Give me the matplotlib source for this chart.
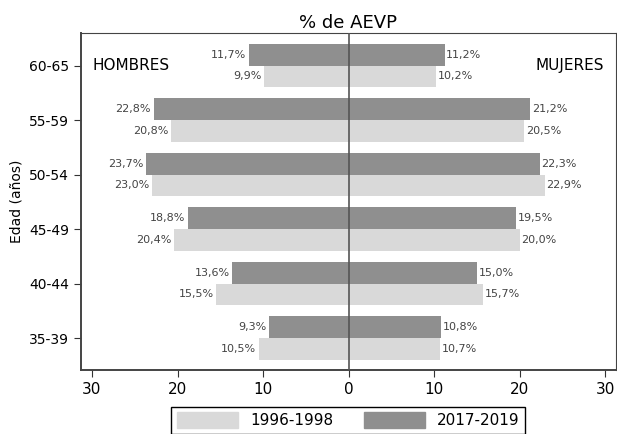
import matplotlib.pyplot as plt
import numpy as np
from matplotlib.patches import Patch

grupos = ['60-65', '55-59', '50-54', '45-49', '40-44', '35-39']
hombres_9698 = [9.9, 20.8, 23.0, 20.4, 15.5, 10.5]
hombres_1719 = [11.7, 22.8, 23.7, 18.8, 13.6, 9.3]
mujeres_9698 = [10.2, 20.5, 22.9, 20.0, 15.7, 10.7]
mujeres_1719 = [11.2, 21.2, 22.3, 19.5, 15.0, 10.8]

c_claro = '#d9d9d9'
c_oscuro = '#8f8f8f'
h = 0.4

fig = plt.figure(figsize=(6.17, 4.34), dpi=100)
ax = fig.add_axes([0.131, 0.147, 0.867, 0.776])

y = np.arange(len(grupos))
# oscuro arriba, claro abajo
ax.barh(y - h/2, [-v for v in hombres_1719], height=h, color=c_oscuro)
ax.barh(y + h/2, [-v for v in hombres_9698], height=h, color=c_claro)
ax.barh(y - h/2, mujeres_1719, height=h, color=c_oscuro)
ax.barh(y + h/2, mujeres_9698, height=h, color=c_claro)
ax.axvline(0, color='#555555', lw=1.2, zorder=5)

fmt = lambda v: ('%.1f%%' % v).replace('.', ',')
for i in range(len(grupos)):
    ax.text(-hombres_1719[i] - 0.3, i - h/2, fmt(hombres_1719[i]), ha='right', va='center', fontsize=8, color='#444444')
    ax.text(-hombres_9698[i] - 0.3, i + h/2, fmt(hombres_9698[i]), ha='right', va='center', fontsize=8, color='#444444')
    ax.text(mujeres_1719[i] + 0.2, i - h/2, fmt(mujeres_1719[i]), ha='left', va='center', fontsize=8, color='#444444')
    ax.text(mujeres_9698[i] + 0.2, i + h/2, fmt(mujeres_9698[i]), ha='left', va='center', fontsize=8, color='#444444')

ax.text(-29.9, 0, 'HOMBRES', ha='left', va='center', fontsize=11)
ax.text(29.8, 0, 'MUJERES', ha='right', va='center', fontsize=11)

ax.set_xlim(-31.3, 31.2)
ax.set_ylim(5.59, -0.59)
ax.set_yticks(y)
ax.set_yticklabels(grupos, fontsize=10)
ax.set_xticks([-30, -20, -10, 0, 10, 20, 30])
ax.set_xticklabels(['30', '20', '10', '0', '10', '20', '30'], fontsize=11)
ax.tick_params(axis='both', length=5, color='#333333')
ax.set_ylabel('Edad (años)', fontsize=10)
ax.set_title('% de AEVP', fontsize=13, pad=4)
for s in ax.spines.values():
    s.set_color('#444444')
ax.spines['left'].set_linewidth(1.4)
ax.spines['bottom'].set_linewidth(1.4)

handles = [Patch(color=c_claro, label='1996-1998'), Patch(color=c_oscuro, label='2017-2019')]
leg = fig.legend(handles=handles, loc='upper center', bbox_to_anchor=(0.564, 1 - 407/434), ncol=2,
                 fontsize=11, handlelength=4, handleheight=1.2, columnspacing=2.0, fancybox=False,
                 edgecolor='black', framealpha=1, borderpad=0.35, borderaxespad=0)
leg.get_frame().set_linewidth(1.0)

fig.savefig('out.png', dpi=100)
